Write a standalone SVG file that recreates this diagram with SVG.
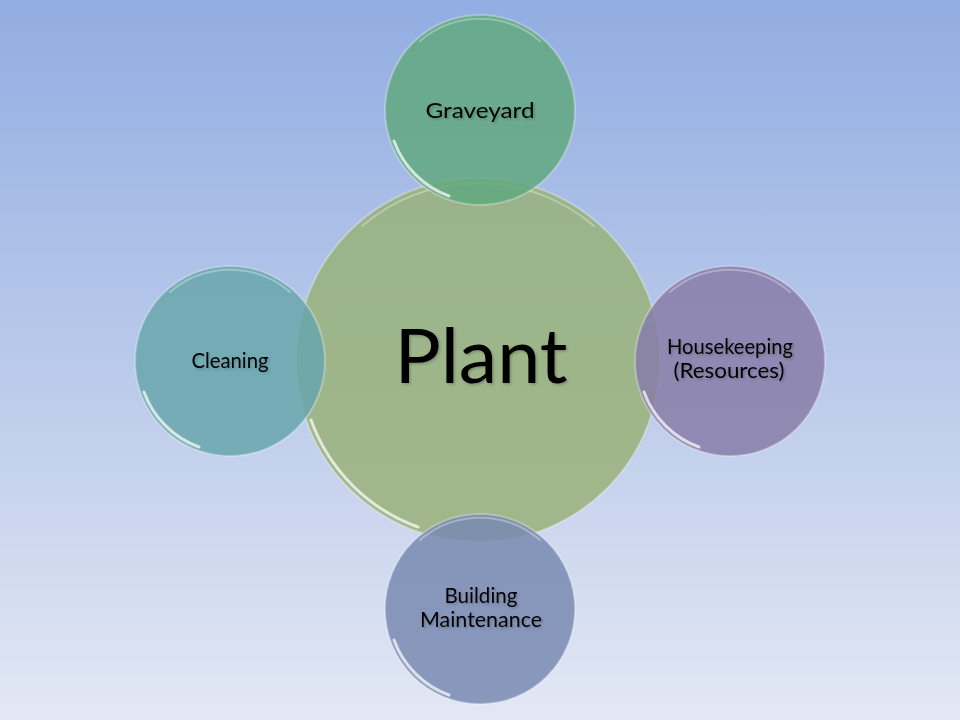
<svg xmlns="http://www.w3.org/2000/svg" width="960" height="720" viewBox="0 0 960 720">
<defs>
<linearGradient id="bg" x1="0" y1="0" x2="0" y2="1">
<stop offset="0" stop-color="#92ade2"/>
<stop offset="0.5" stop-color="#b9c9ea"/>
<stop offset="1" stop-color="#e2e8f4"/>
</linearGradient>
<filter id="ts" x="-10%" y="-30%" width="130%" height="160%">
<feDropShadow dx="1.5" dy="1.5" stdDeviation="1" flood-color="#000" flood-opacity="0.22"/>
</filter>
</defs>
<style>
.c{stroke:#ffffff;stroke-opacity:0.3;stroke-width:2}
.rim{fill:none;stroke:#ffffff;stroke-opacity:0.7;stroke-width:3;stroke-linecap:round}
.rimt{fill:none;stroke:#ffffff;stroke-opacity:0.3;stroke-width:2;stroke-linecap:round}
.t{font-family:Lato,"Open Sans","Liberation Sans",sans-serif;fill:#000;text-anchor:middle;filter:url(#ts)}
.s{font-size:21px}
</style>
<rect width="960" height="720" fill="url(#bg)"/>
<g id="plant">
<circle class="c" cx="478" cy="360" r="182" fill="#99b179" fill-opacity="0.85"/>
<path class="rim" d="M 311 420 A 178 178 0 0 0 418 527"/>
<path class="rimt" d="M 362 226 A 178 178 0 0 1 594 226"/>
<text class="t" x="481" y="383" font-size="76" textLength="173" lengthAdjust="spacingAndGlyphs">Plant</text>
</g>
<g id="graveyard">
<circle class="c" cx="480" cy="110" r="95" fill="#61a87f" fill-opacity="0.85"/>
<path class="rim" d="M 394 141 A 92 92 0 0 0 449 196"/>
<path class="rimt" d="M 420 41 A 92 92 0 0 1 540 41"/>
<text class="s t" x="480" y="118" textLength="109" lengthAdjust="spacingAndGlyphs">Graveyard</text>
</g>
<g id="cleaning">
<circle class="c" cx="230" cy="361" r="95" fill="#69a6ab" fill-opacity="0.85"/>
<path class="rim" d="M 144 392 A 92 92 0 0 0 199 447"/>
<path class="rimt" d="M 170 292 A 92 92 0 0 1 290 292"/>
<text class="s t" x="230" y="368" textLength="77" lengthAdjust="spacingAndGlyphs">Cleaning</text>
</g>
<g id="housekeeping">
<circle class="c" cx="730" cy="361" r="95" fill="#877ca8" fill-opacity="0.85"/>
<path class="rim" d="M 644 392 A 92 92 0 0 0 699 447"/>
<path class="rimt" d="M 670 292 A 92 92 0 0 1 790 292"/>
<text class="s t" x="730" y="354" textLength="126" lengthAdjust="spacingAndGlyphs">Housekeeping</text>
<text class="s t" x="729" y="378" textLength="111" lengthAdjust="spacingAndGlyphs">(Resources)</text>
</g>
<g id="building">
<circle class="c" cx="480" cy="609" r="95" fill="#798ab2" fill-opacity="0.85"/>
<path class="rim" d="M 394 640 A 92 92 0 0 0 449 695"/>
<path class="rimt" d="M 420 540 A 92 92 0 0 1 540 540"/>
<text class="s t" x="481" y="603" textLength="73" lengthAdjust="spacingAndGlyphs">Building</text>
<text class="s t" x="481" y="627" textLength="122" lengthAdjust="spacingAndGlyphs">Maintenance</text>
</g>
<g id="connectors"></g>
</svg>
